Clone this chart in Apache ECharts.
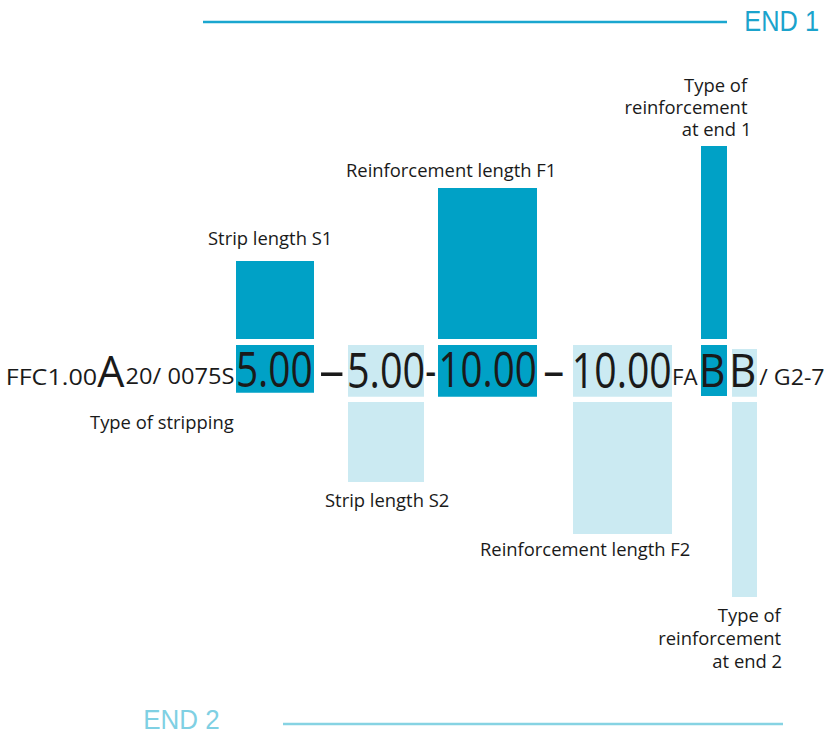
<!DOCTYPE html>
<html><head><meta charset="utf-8">
<script src="https://cdn.jsdelivr.net/npm/echarts@6/dist/echarts.min.js"></script>
<style>html,body{margin:0;padding:0;background:#fff}#c{width:826px;height:735px}</style>
</head><body><div id="c"></div>
<script>
// ---- data ----
const upperSegments = ['Strip length S1', 'Reinforcement length F1', 'Type of reinforcement at end 1'];
const upperLengths = [78, 151, 193];
const lowerSegments = ['Strip length S2', 'Reinforcement length F2', 'Type of reinforcement at end 2'];
const lowerLengths = [80, 132, 195];
const codeParts = ['FFC1.00', 'A', '20/ 0075S', '5.00', '–', '5.00', '-', '10.00', '–', '10.00', 'FA', 'B', 'B', '/ G2-7'];
const endLabels = ['END 1', 'END 2'];

// ---- layout (positions / styles) ----
const W = 826, H = 735;
const DARK = '#00a1c6', LIGHT = '#cbeaf2';
const FONT = '"Open Sans", "Noto Sans", sans-serif';
const END_FONT = '"Liberation Sans", Arial, sans-serif';
const upperSpans = [[236, 314], [438, 537], [701, 727]];
const lowerSpans = [[348, 424], [573, 672], [732, 757]];
const TOP_BASE = 339, BOT_BASE = 402;
const VOFF = -2.5;
// code-part ink spans and cap heights
const codeLayout = [
  [8, 96.5, 16], [97.3, 125, 31.7], [126.7, 233.3, 16], [238.3, 311, 36], [320, 342.7, 36],
  [349.3, 423.3, 36], [426, 435, 36], [441.7, 535, 36], [544, 562.7, 36],
  [575, 670, 36], [674, 697.7, 16], [702.7, 723.3, 33.3], [732.7, 754, 33.3], [759.3, 824, 16]
];
const CODE_BASE = 385;
const boxes = [
  [236, 314, 345, 392.7, DARK], [348, 424, 345, 396.7, LIGHT], [438, 537, 345, 396.7, DARK],
  [573, 672, 345, 396.7, LIGHT], [701, 727, 345, 396, DARK], [732, 757, 349, 396.7, LIGHT]
];

const cv = document.createElement('canvas').getContext('2d');
function meas(text, size, font) {
  cv.font = size + 'px ' + font; cv.textBaseline = 'middle'; cv.textAlign = 'left';
  return cv.measureText(text);
}
function fontInfo(font) {
  const m = meas('H', 100, font);
  return { cap: (m.actualBoundingBoxAscent + m.actualBoundingBoxDescent) / 100, mid: m.actualBoundingBoxDescent / 100 };
}
const FI = fontInfo(FONT), EFI = fontInfo(END_FONT);

function txt(text, x0, x1, base, cap, color, scale, right, font) {
  font = font || FONT;
  const fi = font === FONT ? FI : EFI;
  const fs = cap / fi.cap;
  const m = meas(text, fs, font);
  const inkW = m.actualBoundingBoxLeft + m.actualBoundingBoxRight;
  const s = (x0 != null && x1 != null) ? (x1 - x0) / inkW : scale;
  const anchor = right ? x1 - m.actualBoundingBoxRight * s : x0 + m.actualBoundingBoxLeft * s;
  return {
    type: 'text', x: anchor, y: base - fi.mid * fs + VOFF, scaleX: s, z: 10,
    style: { text: text, font: fs + 'px ' + font, fill: color, textAlign: 'left', textVerticalAlign: 'middle', align: 'left', verticalAlign: 'middle' }
  };
}
function labelScale() {
  const fs = 13.3 / FI.cap; const m = meas('Reinforcement length F1', fs, FONT);
  return 206 / (m.actualBoundingBoxLeft + m.actualBoundingBoxRight);
}
const LS = labelScale();
const TXT = '#1a1a1a';

const graphics = [];
boxes.forEach(b => graphics.push({ type: 'rect', z: 1, shape: { x: b[0], y: b[2], width: b[1] - b[0], height: b[3] - b[2] }, style: { fill: b[4] } }));
codeParts.forEach((t, i) => {
  const L = codeLayout[i];
  graphics.push(txt(t, L[0], L[1], CODE_BASE, L[2], TXT));
});
// labels
graphics.push(txt(upperSegments[0], 208, null, 245, 13.3, TXT, LS));
graphics.push(txt(upperSegments[1], 347, null, 177.7, 13.3, TXT, LS));
graphics.push(txt('Type of stripping', 90, null, 429, 13.3, TXT, LS));
graphics.push(txt(lowerSegments[0], 325, null, 507, 13.3, TXT, LS));
graphics.push(txt(lowerSegments[1], 481, null, 556, 13.3, TXT, LS));
['Type of', 'reinforcement', 'at end 1'].forEach((t, i) => graphics.push(txt(t, null, 748, 92 + i * 22, 13.3, TXT, LS, true)));
['Type of', 'reinforcement', 'at end 2'].forEach((t, i) => graphics.push(txt(t, null, 781.7, 622.7 + i * 22.6, 13.3, TXT, LS, true)));
// END markers
graphics.push(txt(endLabels[0], 746, 818, 31.5, 20, '#1ba3cc', null, false, END_FONT));
graphics.push(txt(endLabels[1], 145, 219, 729.5, 19.5, '#7fd0e3', null, false, END_FONT));
graphics.push({ type: 'line', shape: { x1: 203, y1: 22, x2: 727, y2: 22 }, style: { stroke: '#1aa6cf', lineWidth: 2.5 } });
graphics.push({ type: 'line', shape: { x1: 283, y1: 724, x2: 783, y2: 724 }, style: { stroke: '#86d3e3', lineWidth: 2.5 } });

function barRender(spans, color) {
  return function (params, api) {
    const i = api.value(0);
    const p0 = api.coord([spans[i][0], 0]);
    const p1 = api.coord([spans[i][1], api.value(1)]);
    return {
      type: 'rect',
      shape: { x: p0[0], y: Math.min(p0[1], p1[1]), width: p1[0] - p0[0], height: Math.abs(p1[1] - p0[1]) },
      style: { fill: color }
    };
  };
}

const chart = echarts.init(document.getElementById('c'), null, { renderer: 'svg' });
chart.setOption({
  animation: false,
  grid: [
    { left: 0, top: 0, width: W, height: TOP_BASE },
    { left: 0, top: BOT_BASE, width: W, height: H - BOT_BASE }
  ],
  xAxis: [
    { type: 'value', gridIndex: 0, min: 0, max: W, show: false },
    { type: 'value', gridIndex: 1, min: 0, max: W, show: false }
  ],
  yAxis: [
    { type: 'value', gridIndex: 0, min: 0, max: TOP_BASE, show: false },
    { type: 'value', gridIndex: 1, min: 0, max: H - BOT_BASE, inverse: true, show: false }
  ],
  series: [
    { type: 'custom', name: 'End 1 side', xAxisIndex: 0, yAxisIndex: 0, clip: false,
      data: upperLengths.map((v, i) => [i, v]), renderItem: barRender(upperSpans, DARK) },
    { type: 'custom', name: 'End 2 side', xAxisIndex: 1, yAxisIndex: 1, clip: false,
      data: lowerLengths.map((v, i) => [i, v]), renderItem: barRender(lowerSpans, LIGHT) }
  ],
  graphic: graphics
});
</script></body></html>
